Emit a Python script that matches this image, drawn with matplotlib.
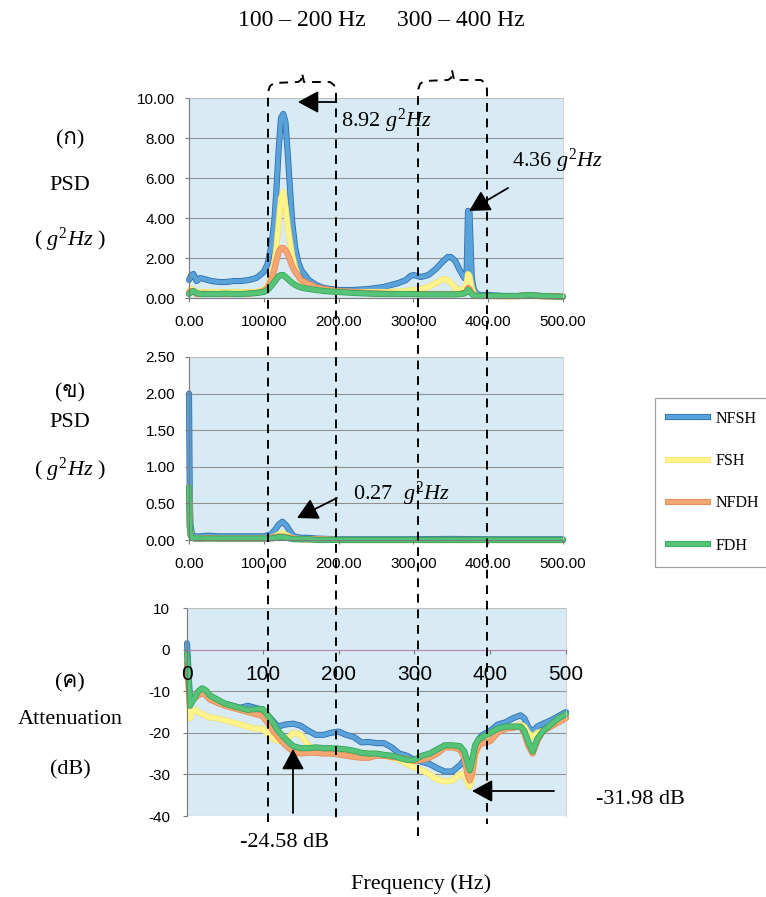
import matplotlib
matplotlib.use('Agg')
import matplotlib.pyplot as plt
from matplotlib.lines import Line2D
from matplotlib.patches import FancyArrowPatch
from matplotlib.ticker import FormatStrFormatter
import matplotlib.patheffects as pe
import matplotlib.font_manager as fm
from matplotlib.ft2font import FT2Font

# ---------------- data ----------------
series_names = ['NFSH', 'FSH', 'NFDH', 'FDH']

# panel (a): PSD, g^2/Hz
freq_a = [0, 3, 6, 10, 15, 20, 30, 40, 50, 60,
          70, 80, 90, 100, 105, 110, 114, 117, 120, 123,
          126, 129, 132, 135, 138, 142, 146, 150, 160, 170,
          180, 190, 200, 220, 240, 260, 280, 290, 296, 300,
          310, 320, 330, 340, 346, 350, 356, 362, 368, 371,
          373, 375, 378, 381, 385, 390, 400, 420, 440, 455,
          470, 485, 500]
nfsh_a = [0.9, 1.15, 1.2, 0.85, 1.0, 0.95, 0.85, 0.8, 0.8, 0.85,
          0.85, 0.9, 1.0, 1.3, 1.7, 2.6, 3.8, 5.5, 7.5, 9.0,
          9.2, 8.8, 7.2, 5.5, 3.8, 2.5, 1.8, 1.4, 0.9, 0.65,
          0.5, 0.45, 0.4, 0.4, 0.45, 0.55, 0.75, 0.9, 1.1, 1.15,
          1.05, 1.15, 1.45, 1.85, 2.05, 2.05, 1.85, 1.4, 1.0, 1.0,
          4.36, 4.3, 1.0, 0.4, 0.2, 0.15, 0.15, 0.1, 0.1, 0.15,
          0.1, 0.08, 0.08]
fsh_a = [0.35, 0.45, 0.4, 0.3, 0.3, 0.3, 0.3, 0.3, 0.3, 0.3,
         0.3, 0.3, 0.3, 0.4, 0.6, 1.0, 1.7, 2.6, 3.8, 5.0,
         5.3, 4.6, 3.6, 2.8, 2.1, 1.5, 1.1, 0.85, 0.55, 0.45,
         0.4, 0.35, 0.3, 0.3, 0.3, 0.3, 0.32, 0.35, 0.38, 0.4,
         0.45, 0.55, 0.75, 0.95, 0.9, 0.75, 0.5, 0.4, 0.45, 0.7,
         1.2, 1.1, 0.5, 0.2, 0.1, 0.1, 0.1, 0.08, 0.08, 0.1,
         0.08, 0.06, 0.06]
nfdh_a = [0.25, 0.35, 0.3, 0.2, 0.2, 0.22, 0.2, 0.2, 0.2, 0.2,
          0.2, 0.22, 0.25, 0.35, 0.5, 0.9, 1.4, 1.9, 2.3, 2.5,
          2.5, 2.4, 2.2, 1.9, 1.6, 1.3, 1.1, 0.9, 0.7, 0.55,
          0.45, 0.4, 0.35, 0.3, 0.25, 0.22, 0.2, 0.2, 0.2, 0.2,
          0.2, 0.2, 0.2, 0.2, 0.2, 0.2, 0.2, 0.2, 0.25, 0.35,
          0.5, 0.45, 0.25, 0.15, 0.1, 0.1, 0.1, 0.1, 0.1, 0.15,
          0.1, 0.1, 0.08]
fdh_a = [0.2, 0.3, 0.35, 0.25, 0.2, 0.2, 0.2, 0.2, 0.22, 0.2,
         0.2, 0.22, 0.25, 0.3, 0.4, 0.6, 0.8, 0.95, 1.1, 1.15,
         1.15, 1.05, 0.95, 0.85, 0.75, 0.65, 0.58, 0.52, 0.45, 0.4,
         0.35, 0.32, 0.3, 0.25, 0.22, 0.2, 0.2, 0.2, 0.2, 0.2,
         0.18, 0.18, 0.18, 0.18, 0.18, 0.18, 0.18, 0.2, 0.22, 0.3,
         0.4, 0.35, 0.2, 0.12, 0.1, 0.1, 0.1, 0.1, 0.1, 0.15,
         0.1, 0.08, 0.06]

# panel (b): PSD, g^2/Hz
freq_b = [0, 1, 2, 4, 8, 15, 25, 40, 60, 80,
          100, 110, 115, 120, 125, 130, 135, 140, 150, 160,
          170, 200, 250, 300, 350, 400, 450, 500]
nfsh_b = [2.0, 0.6, 0.2, 0.08, 0.05, 0.05, 0.06, 0.05, 0.05, 0.05,
          0.05, 0.08, 0.14, 0.21, 0.25, 0.2, 0.12, 0.05, 0.03, 0.03,
          0.02, 0.01, 0.01, 0.01, 0.015, 0.01, 0.01, 0.01]
fsh_b = [0.72, 0.2, 0.08, 0.03, 0.02, 0.02, 0.02, 0.02, 0.02, 0.02,
         0.02, 0.03, 0.05, 0.08, 0.09, 0.07, 0.04, 0.02, 0.01, 0.01,
         0.01, 0.0, 0.0, 0.0, 0.0, 0.0, 0.0, 0.0]
nfdh_b = [0.7, 0.2, 0.08, 0.03, 0.02, 0.02, 0.03, 0.02, 0.02, 0.02,
          0.02, 0.03, 0.04, 0.05, 0.05, 0.04, 0.03, 0.02, 0.01, 0.01,
          0.01, 0.0, 0.0, 0.0, 0.0, 0.0, 0.0, 0.0]
fdh_b = [0.72, 0.18, 0.07, 0.03, 0.02, 0.02, 0.02, 0.02, 0.02, 0.02,
         0.02, 0.02, 0.03, 0.04, 0.04, 0.03, 0.02, 0.01, 0.01, 0.01,
         0.0, 0.0, 0.0, 0.0, 0.0, 0.0, 0.0, 0.0]

# panel (c): Attenuation, dB
freq_c = [0, 2, 4, 7, 11, 15, 20, 25, 30, 40,
          50, 60, 70, 80, 90, 100, 110, 120, 130, 140,
          150, 160, 170, 180, 190, 200, 210, 220, 230, 240,
          250, 260, 270, 280, 290, 300, 310, 320, 330, 340,
          350, 360, 366, 370, 373, 376, 380, 385, 390, 400,
          410, 420, 430, 440, 445, 450, 456, 462, 470, 480,
          490, 500]
nfsh_c = [1.5, -5, -13, -12, -11.5, -10.5, -10, -10.5, -11.5, -12.5,
          -13, -13.5, -14, -13.5, -14, -14.5, -16.5, -18.5, -18, -17.8,
          -18.3, -19.5, -20.5, -20.5, -20, -19.7, -20.5, -21, -22.3, -22.2,
          -22.5, -22.5, -23.5, -25, -25.5, -26.5, -27, -27.5, -28.5, -29.3,
          -29.3, -27.8, -26.5, -27.5, -29, -27, -24, -21.5, -20.5, -19.5,
          -18, -17.5, -16.5, -15.8, -16.5, -18.5, -19.8, -18.5, -17.8, -17,
          -16, -15]
fsh_c = [-3, -10, -16.5, -15, -14.5, -15, -15.5, -16, -16.3, -16.5,
         -17, -17.5, -18, -18.5, -19, -19, -21, -22, -22, -20,
         -20.5, -23, -24, -24.5, -24.5, -24.8, -25, -25, -25, -25,
         -25, -25.5, -26, -26.5, -27.5, -28.3, -29, -30, -31.2, -31.7,
         -31.5, -30, -30, -32, -33, -31, -26, -23, -22, -20.5,
         -19.5, -19, -18.5, -18, -18.5, -20, -21, -20, -19.5, -18.5,
         -17, -16]
nfdh_c = [-3, -8, -12.5, -12, -11.5, -11, -10.5, -11, -12, -12.8,
          -13.5, -14, -14.5, -15, -15.5, -16, -18.5, -21, -23, -24.5,
          -25, -24.8, -24.8, -25, -25, -25.2, -25.5, -25.8, -26, -26,
          -25.5, -25.5, -25.8, -26, -26.3, -26.8, -26.5, -26, -25, -23.5,
          -23.5, -24, -26, -30, -31.5, -30, -25, -23, -22.5, -22,
          -20, -19, -18.8, -18.5, -20, -23, -25, -22, -19.5, -18.5,
          -17.5, -16.5]
fdh_c = [-1, -6, -13.5, -12.5, -11.2, -10, -9.3, -9.8, -11, -12,
         -13, -13.5, -14, -14.5, -14.3, -14.3, -16.5, -19.5, -21.5, -23.2,
         -23.7, -23.7, -23.5, -23.7, -23.7, -23.8, -24, -24.3, -24.8, -25,
         -25, -25.3, -25.5, -26, -26.5, -26.5, -25.5, -25, -24, -23,
         -23, -23.2, -24.5, -27, -29, -27, -23, -21.5, -21, -20,
         -19, -18.5, -18.5, -18.5, -19.5, -22, -24.5, -21.5, -19.5, -18,
         -16.5, -15.5]

x_ticks = [0, 100, 200, 300, 400, 500]
yticks_a = [0, 2, 4, 6, 8, 10]
yticks_b = [0, 0.5, 1.0, 1.5, 2.0, 2.5]
yticks_c = [-40, -30, -20, -10, 0, 10]

# ---------------- fonts ----------------
thai_family = None
for fe in fm.fontManager.ttflist:
    try:
        if 0x0E01 in FT2Font(fe.fname).get_charmap():
            thai_family = fe.name
            break
    except Exception:
        pass

SERIF = ['Liberation Serif', 'DejaVu Serif']
SERIF_TH = ['Liberation Serif'] + ([thai_family] if thai_family else []) + ['DejaVu Sans']
SANS = 'Liberation Sans'
plt.rcParams['mathtext.fontset'] = 'custom'
plt.rcParams['mathtext.rm'] = 'Liberation Serif'
plt.rcParams['mathtext.it'] = 'Liberation Serif:italic'
plt.rcParams['font.family'] = SERIF

W, H = 766, 897
fig = plt.figure(figsize=(W / 100, H / 100), dpi=100)
fig.patch.set_facecolor('white')


def fx(x):
    return x / W


def fy(y):
    return 1 - y / H


styles = {
    'NFSH': ('#5aa3da', '#2f6fae'),
    'FSH': ('#fff48c', '#f3e270'),
    'NFDH': ('#f3a672', '#e8895a'),
    'FDH': ('#55c479', '#37a459'),
}
BG = '#d8ebf5'


def style_axes(ax, yticks, fmt, zero_color=None):
    ax.set_facecolor(BG)
    ax.set_xlim(0, 500)
    ax.set_ylim(yticks[0], yticks[-1])
    ax.set_xticks(x_ticks)
    ax.set_yticks(yticks)
    ax.yaxis.set_major_formatter(FormatStrFormatter(fmt))
    for t in yticks:
        col = zero_color if (zero_color and t == 0) else '#909090'
        ax.axhline(t, color=col, lw=0.8, zorder=0.6)
    for s in ['top', 'right']:
        ax.spines[s].set_color('#c9c9c9')
        ax.spines[s].set_linewidth(0.6)
    ax.spines['left'].set_color('#7a7a7a')
    ax.spines['bottom'].set_color('#7a7a7a')
    ax.tick_params(axis='both', colors='#7a7a7a', labelcolor='black', length=3,
                   labelsize=11, labelfontfamily=SANS)
    ax.xaxis.set_zorder(5)
    ax.yaxis.set_zorder(5)


def plot_series(ax, f, data):
    for name, vals in zip(series_names, data):
        c, e = styles[name]
        ax.plot(f, vals, color=c, lw=3.2, solid_capstyle='round', clip_on=False, zorder=2,
                path_effects=[pe.Stroke(linewidth=4.4, foreground=e), pe.Normal()])


# panel a
ax1 = fig.add_axes([fx(189), fy(298), fx(563) - fx(189), fy(98) - fy(298)])
style_axes(ax1, yticks_a, '%.2f')
ax1.xaxis.set_major_formatter(FormatStrFormatter('%.2f'))
ax1.tick_params(axis='x', pad=9)
ax1.tick_params(axis='y', pad=7)
plot_series(ax1, freq_a, [nfsh_a, fsh_a, nfdh_a, fdh_a])

# panel b
ax2 = fig.add_axes([fx(189), fy(540), fx(563) - fx(189), fy(357) - fy(540)])
style_axes(ax2, yticks_b, '%.2f')
ax2.xaxis.set_major_formatter(FormatStrFormatter('%.2f'))
ax2.tick_params(axis='x', pad=9)
ax2.tick_params(axis='y', pad=7)
plot_series(ax2, freq_b, [nfsh_b, fsh_b, nfdh_b, fdh_b])

# panel c
ax3 = fig.add_axes([fx(187), fy(816), fx(566) - fx(187), fy(608) - fy(816)])
style_axes(ax3, yticks_c, '%d', zero_color='#b48ab4')
ax3.spines['bottom'].set_position(('data', 0))
ax3.spines['bottom'].set_color('#b48ab4')
ax3.tick_params(axis='x', pad=8, labelsize=15)
ax3.tick_params(axis='y', pad=9)
plot_series(ax3, freq_c, [nfsh_c, fsh_c, nfdh_c, fdh_c])

# legend
handles = []
for name in series_names:
    c, e = styles[name]
    handles.append(Line2D([], [], color=c, lw=3.2,
                          path_effects=[pe.Stroke(linewidth=4.4, foreground=e), pe.Normal()]))
leg = fig.legend(handles, series_names, loc='upper left',
                 bbox_to_anchor=(fx(655), fy(398)), bbox_transform=fig.transFigure,
                 frameon=True, fancybox=False, borderpad=0.8, labelspacing=1.65,
                 handlelength=2.5, handletextpad=0.5, borderaxespad=0,
                 prop={'family': SERIF, 'size': 11.5})
leg.get_frame().set_edgecolor('#8a8a8a')
leg.get_frame().set_linewidth(0.9)

# dashed bands (hand-drawn overlay)
dash_kw = dict(color='black', lw=1.4, ls=(0, (4.5, 3.5)), transform=fig.transFigure)


def band(xl, xr, ybl, ybr, ytop, xb, yb):
    xs = [xl, xl, xl + 2, xl + 6, xb - 4, xb - 1, xb, xb + 2, xr - 6, xr - 2, xr, xr]
    ys = [ybl, ytop + 10, ytop + 4, ytop + 1, ytop, ytop - 2, yb, ytop, ytop, ytop + 3, ytop + 9, ybr]
    fig.add_artist(Line2D([fx(v) for v in xs], [fy(v) for v in ys], **dash_kw))


band(268, 336, 822, 822, 82, 302, 73)
band(418, 487, 836, 824, 80, 452, 70)

# arrows
arrow_kw = dict(transform=fig.transFigure, arrowstyle='-|>,head_length=0.7,head_width=0.38',
                mutation_scale=18, color='black', lw=1.3, shrinkA=0, shrinkB=0)
for (xa, ya), (xb, yb) in [((336, 102), (298, 102)),
                           ((508, 188), (469, 211)),
                           ((337, 498), (297, 518)),
                           ((293, 813), (293, 749)),
                           ((554, 791), (472, 791))]:
    fig.add_artist(FancyArrowPatch((fx(xa), fy(ya)), (fx(xb), fy(yb)), **arrow_kw))
fig.add_artist(Line2D([fx(336), fx(336)], [fy(96), fy(102)], color='black', lw=1.3,
                      transform=fig.transFigure))

# texts
T = dict(fontsize=16, family=SERIF, va='center')
fig.text(fx(341), fy(121), '8.92 $g^2Hz$', ha='left', **T)
fig.text(fx(512), fy(161), '4.36 $g^2Hz$', ha='left', **T)
fig.text(fx(353), fy(494), '0.27  $g^2Hz$', ha='left', **T)
fig.text(fx(285), fy(842), '-24.58 dB', ha='center', **T)
fig.text(fx(640), fy(799), '-31.98 dB', ha='center', **T)
fig.text(fx(421), fy(884), 'Frequency (Hz)', ha='center', **T)
T2 = dict(fontsize=17, family=SERIF, va='center', ha='center')
fig.text(fx(302), fy(20), '100 – 200 Hz', **T2)
fig.text(fx(461), fy(20), '300 – 400 Hz', **T2)

L = dict(fontsize=16, family=SERIF_TH, va='center', ha='center')
fig.text(fx(70), fy(140), '(ก)', **L)
fig.text(fx(70), fy(186), 'PSD', **L)
fig.text(fx(70), fy(240), '( $g^2Hz$ )', **L)
fig.text(fx(70), fy(393), '(ข)', **L)
fig.text(fx(70), fy(422), 'PSD', **L)
fig.text(fx(70), fy(470), '( $g^2Hz$ )', **L)
fig.text(fx(70), fy(683), '(ค)', **L)
fig.text(fx(70), fy(719), 'Attenuation', **L)
fig.text(fx(70), fy(770), '(dB)', **L)

fig.savefig('out.png', dpi=100)
